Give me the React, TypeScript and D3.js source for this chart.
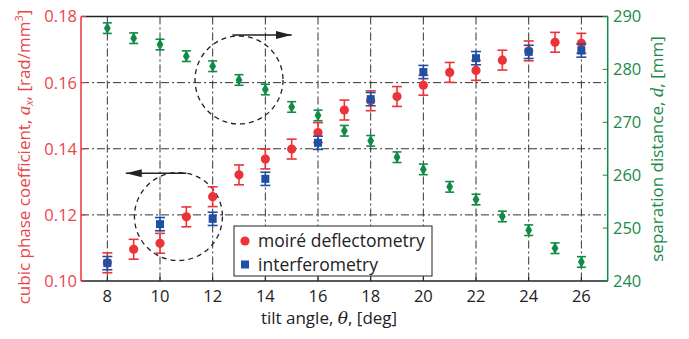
import * as d3 from 'd3'

const angles = [8, 9, 10, 11, 12, 13, 14, 15, 16, 17, 18, 19, 20, 21, 22, 23, 24, 25, 26]
const moire = [0.1055, 0.1096, 0.1114, 0.1194, 0.1255, 0.1321, 0.1369, 0.1399, 0.1449, 0.1517, 0.1545, 0.1558, 0.1592, 0.1631, 0.1637, 0.1668, 0.1696, 0.1722, 0.1719]
const moireErr = [0.003, 0.003, 0.003, 0.003, 0.003, 0.003, 0.003, 0.003, 0.003, 0.003, 0.003, 0.003, 0.003, 0.003, 0.003, 0.003, 0.003, 0.003, 0.003]
const interfAngles = [8, 10, 12, 14, 16, 18, 20, 22, 24, 26]
const interf = [0.1054, 0.1172, 0.1188, 0.1309, 0.1418, 0.155, 0.1632, 0.1674, 0.1693, 0.1697]
const interfErr = [0.002, 0.002, 0.002, 0.002, 0.002, 0.002, 0.002, 0.002, 0.002, 0.002]
const separation = [287.8, 285.9, 284.7, 282.5, 280.6, 278.0, 276.2, 272.9, 271.3, 268.4, 266.5, 263.4, 261.1, 257.8, 255.4, 252.2, 249.6, 246.2, 243.6]
const sepErr = [1, 1, 1, 1, 1, 1, 1, 1, 1, 1, 1, 1, 1, 1, 1, 1, 1, 1, 1]

const xTicks = [8, 10, 12, 14, 16, 18, 20, 22, 24, 26]
const leftTicks = [0.1, 0.12, 0.14, 0.16, 0.18]
const rightTicks = [240, 250, 260, 270, 280, 290]
const gridY = [0.12, 0.14, 0.16]
const legendLabels = ['moiré deflectometry', 'interferometry']

// annotation circles / arrows in data coords
const circles = [
  { x: 13, y: 278, axis: 'right' },
  { x: 10.7, y: 0.1195, axis: 'left' },
]
const arrows = [
  { x0: 12.75, x1: 15.0, y: 286.5, axis: 'right' },
  { x0: 11.0, x1: 8.7, y: 0.1326, axis: 'left' },
]

const RED = '#ec3337'
const RED_TXT = '#e9464a'
const BLUE = '#1f50a3'
const GREEN = '#118a46'
const GREEN_TXT = '#1b8a4a'
const FONT = "'Open Sans', sans-serif"
const GRID_DASH = '8,3,2,3'

export default function App() {
  const W = 689
  const H = 339
  const left = 81
  const right = 607.7
  const top = 16.5
  const bottom = 281

  const x = d3.scaleLinear().domain([7, 27]).range([left, right])
  const yL = d3.scaleLinear().domain([0.1, 0.18]).range([bottom, top])
  const yR = d3.scaleLinear().domain([240, 290]).range([bottom, top])

  const diamond = d3.symbol().type(d3.symbolDiamond).size(40)()
  const rOf = (ax: string) => (ax === 'right' ? yR : yL)

  const errBar = (cx: number, y0: number, y1: number, color: string, cap: number, key: string) => (
    <g key={key} stroke={color} strokeWidth={1.6}>
      <line x1={cx} x2={cx} y1={y0} y2={y1} />
      <line x1={cx - cap} x2={cx + cap} y1={y0} y2={y0} />
      <line x1={cx - cap} x2={cx + cap} y1={y1} y2={y1} />
    </g>
  )

  const legX = 234
  const legY = 226

  return (
    <div style={{ position: 'absolute', left: 0, top: 0 }}>
      <svg width={W} height={H} style={{ display: 'block', background: '#fff' }}>
        <defs>
          <marker id="ah" viewBox="0 0 16 8" refX="16" refY="4" markerWidth="16" markerHeight="8" markerUnits="userSpaceOnUse" orient="auto">
            <path d="M0,0 L16,4 L0,8 Z" fill="#222" />
          </marker>
        </defs>

        {/* grid */}
        <g stroke="#333" strokeWidth={1} strokeDasharray={GRID_DASH}>
          {xTicks.map(t => (
            <line key={'gx' + t} x1={x(t)} x2={x(t)} y1={top} y2={bottom} />
          ))}
          {gridY.map(t => (
            <line key={'gy' + t} x1={left} x2={right} y1={yL(t)} y2={yL(t)} />
          ))}
        </g>

        {/* annotations */}
        {circles.map((c, i) => (
          <circle key={'c' + i} cx={x(c.x)} cy={rOf(c.axis)(c.y)} r={44} fill="none" stroke="#222" strokeWidth={1.3} strokeDasharray="5,4" />
        ))}
        {arrows.map((a, i) => (
          <line key={'a' + i} x1={x(a.x0)} x2={x(a.x1)} y1={rOf(a.axis)(a.y)} y2={rOf(a.axis)(a.y)} stroke="#222" strokeWidth={1.5} markerEnd="url(#ah)" />
        ))}

        {/* separation distance (right axis) */}
        {angles.map((a, i) => errBar(x(a), yR(separation[i] - sepErr[i]), yR(separation[i] + sepErr[i]), GREEN, 4.5, 'ge' + i))}
        {angles.map((a, i) => (
          <path key={'g' + i} d={diamond} transform={`translate(${x(a)},${yR(separation[i])})`} fill={GREEN} />
        ))}

        {/* moire */}
        {angles.map((a, i) => errBar(x(a), yL(moire[i] - moireErr[i]), yL(moire[i] + moireErr[i]), RED, 5, 're' + i))}
        {angles.map((a, i) => (
          <circle key={'r' + i} cx={x(a)} cy={yL(moire[i])} r={4.6} fill={RED} />
        ))}

        {/* interferometry */}
        {interfAngles.map((a, i) => errBar(x(a), yL(interf[i] - interfErr[i]), yL(interf[i] + interfErr[i]), BLUE, 5, 'be' + i))}
        {interfAngles.map((a, i) => (
          <rect key={'b' + i} x={x(a) - 4} y={yL(interf[i]) - 4} width={8} height={8} fill={BLUE} />
        ))}

        {/* frame */}
        <line x1={left} x2={right} y1={top} y2={top} stroke="#222" strokeWidth={1.5} />
        <line x1={left} x2={right} y1={bottom} y2={bottom} stroke="#222" strokeWidth={1.5} />
        <line x1={left} x2={left} y1={top} y2={bottom} stroke={RED} strokeWidth={1.5} />
        <line x1={right} x2={right} y1={top} y2={bottom} stroke={GREEN} strokeWidth={1.5} />

        {/* x ticks */}
        {xTicks.map(t => (
          <g key={'xt' + t}>
            <line x1={x(t)} x2={x(t)} y1={bottom} y2={bottom - 4} stroke="#222" strokeWidth={1} />
            <text x={x(t)} y={302} textAnchor="middle" fontFamily={FONT} fontSize={16.5} fill="#222">{t}</text>
          </g>
        ))}
        {/* left ticks */}
        {leftTicks.map(t => (
          <g key={'lt' + t}>
            <line x1={left} x2={left + 5} y1={yL(t)} y2={yL(t)} stroke={RED} strokeWidth={1} />
            <text x={77} y={yL(t)} dy="0.36em" textAnchor="end" fontFamily={FONT} fontSize={16.5} fill={RED_TXT}>{d3.format('.2f')(t)}</text>
          </g>
        ))}
        {/* right ticks */}
        {rightTicks.map(t => (
          <g key={'rt' + t}>
            <line x1={right} x2={right - 5} y1={yR(t)} y2={yR(t)} stroke={GREEN} strokeWidth={1} />
            <text x={613} y={yR(t)} dy="0.36em" textAnchor="start" fontFamily={FONT} fontSize={16.5} fill={GREEN_TXT}>{t}</text>
          </g>
        ))}

        {/* axis titles */}
        <text x={329} y={324} textAnchor="middle" fontFamily={FONT} fontSize={17} fill="#222">
          tilt angle, <tspan fontFamily="'DejaVu Serif', serif" fontStyle="italic">θ</tspan>, [deg]
        </text>
        <text transform="translate(30,157) rotate(-90)" textAnchor="middle" fontFamily={FONT} fontSize={17} fill={RED_TXT}>
          cubic phase coefficient, <tspan fontFamily="'Liberation Serif', serif" fontStyle="italic" fontSize={19}>a</tspan>
          <tspan fontFamily="'Liberation Serif', serif" fontStyle="italic" fontSize={12} dy={3}>x</tspan>
          <tspan dy={-3}>, [rad/mm</tspan>
          <tspan fontSize={11} dy={-7}>3</tspan>
          <tspan dy={7}>]</tspan>
        </text>
        <text transform="translate(663,149) rotate(-90)" textAnchor="middle" fontFamily={FONT} fontSize={17} fill={GREEN_TXT}>
          separation distance, <tspan fontFamily="'Liberation Serif', serif" fontStyle="italic" fontSize={19}>d</tspan>, [mm]
        </text>

        {/* legend */}
        <g>
          <rect x={legX} y={legY} width={198} height={50} fill="#fff" stroke="#222" strokeWidth={1} />
          <circle cx={legX + 11} cy={legY + 15} r={4.6} fill={RED} />
          <rect x={legX + 7} y={legY + 34.5} width={8} height={8} fill={BLUE} />
          <text x={legX + 24} y={legY + 15} dy="0.36em" fontFamily={FONT} fontSize={17.5} fill="#222">{legendLabels[0]}</text>
          <text x={legX + 24} y={legY + 38.5} dy="0.36em" fontFamily={FONT} fontSize={17.5} fill="#222">{legendLabels[1]}</text>
        </g>
      </svg>
    </div>
  )
}
